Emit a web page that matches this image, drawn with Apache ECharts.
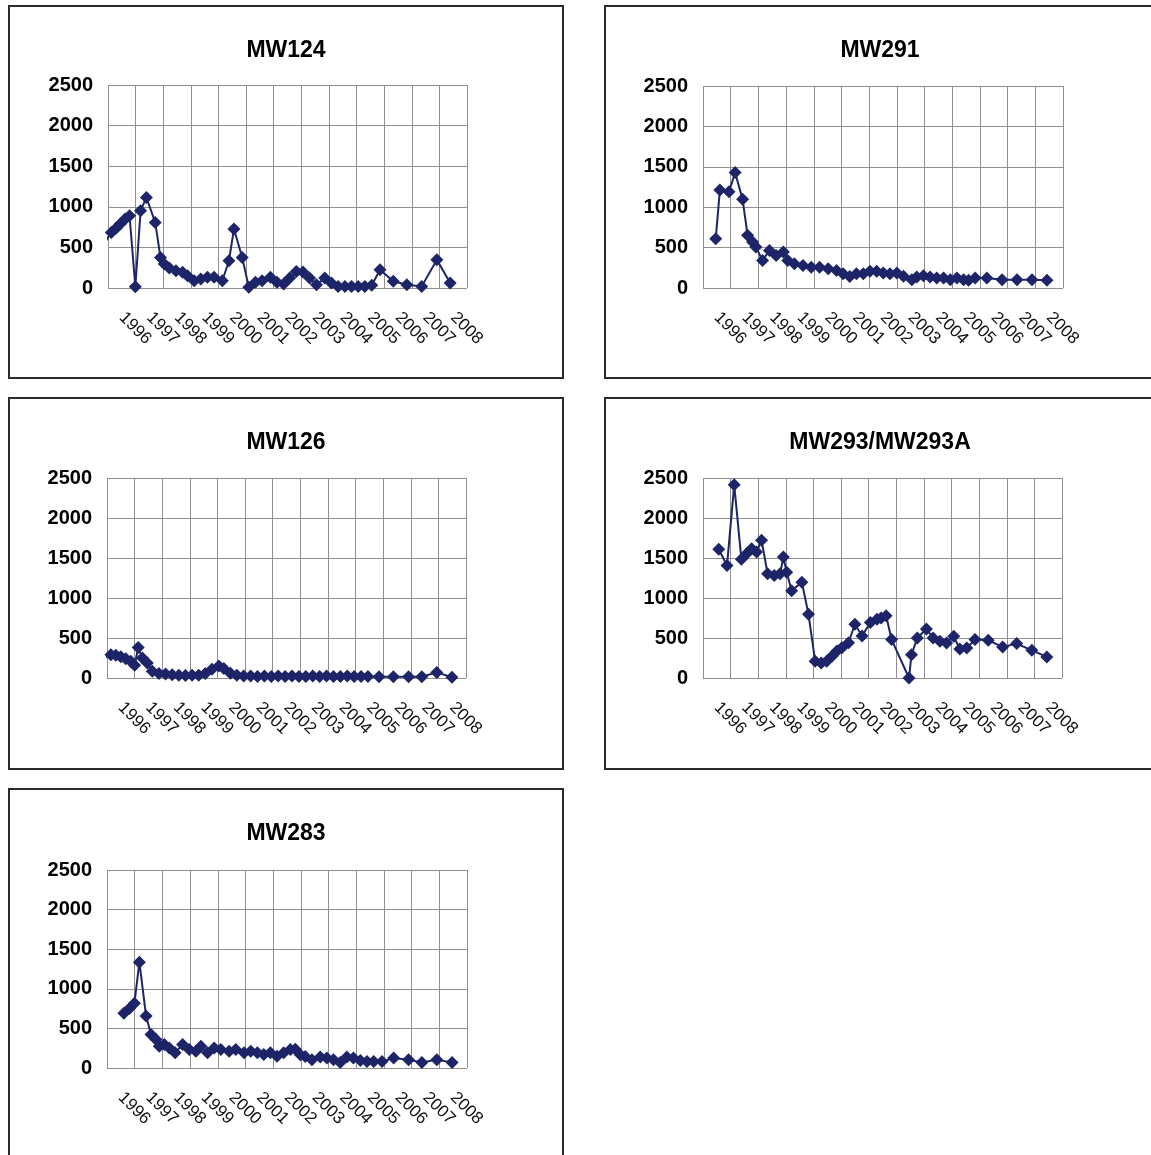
<!DOCTYPE html>
<html>
<head>
<meta charset="utf-8">
<script src="https://cdn.jsdelivr.net/npm/echarts@6/dist/echarts.min.js"></script>
<style>
  html, body { margin: 0; padding: 0; background: #fff; overflow: hidden; width: 1151px; height: 1155px; }
  .panel { position: absolute; border: 2px solid #2b2b2b; box-sizing: border-box; background: #fff; }
  .panel > div { width: 100%; height: 100%; }
</style>
</head>
<body>
<div class="panel" id="p1" style="left:8px; top:5px; width:556px; height:374px;"><div id="c1"></div></div>
<div class="panel" id="p2" style="left:604px; top:5px; width:552px; height:374px;"><div id="c2"></div></div>
<div class="panel" id="p3" style="left:8px; top:397px; width:556px; height:373px;"><div id="c3"></div></div>
<div class="panel" id="p4" style="left:604px; top:397px; width:552px; height:373px;"><div id="c4"></div></div>
<div class="panel" id="p5" style="left:8px; top:788px; width:556px; height:372px;"><div id="c5"></div></div>
<script>
// ---- Tick labels ----
const yearLabels = ['1996','1997','1998','1999','2000','2001','2002','2003','2004','2005','2006','2007','2008'];
const yTicks = [0, 500, 1000, 1500, 2000, 2500];

// ---- MW124 ----
const mw124X = [1995.74, 1996.12, 1996.3, 1996.45, 1996.62, 1996.78, 1996.99, 1997.18, 1997.39, 1997.71, 1997.9,
  1998.04, 1998.22, 1998.46, 1998.7, 1998.88, 1999.12, 1999.36, 1999.6, 1999.84, 2000.14, 2000.38, 2000.56, 2000.86,
  2001.1, 2001.34, 2001.58, 2001.88, 2002.12, 2002.36, 2002.58, 2002.82, 2003.06, 2003.3, 2003.55, 2003.85, 2004.09,
  2004.33, 2004.58, 2004.82, 2005.06, 2005.3, 2005.55, 2005.85, 2006.33, 2006.82, 2007.36, 2007.91, 2008.39];
const mw124Y = [480, 685, 740, 790, 850, 890, 16, 950, 1115, 808, 377,
  295, 246, 213, 193, 152, 90, 111, 131, 131, 90, 336, 726, 377,
  8, 70, 90, 131, 70, 49, 122, 204, 196, 122, 41, 122, 61,
  20, 20, 20, 20, 20, 33, 224, 82, 41, 20, 347, 61];

// ---- MW291 ----
const mw291X = [1996.46, 1996.61, 1996.94, 1997.16, 1997.43, 1997.61, 1997.79, 1997.91, 1998.15, 1998.4, 1998.64,
  1998.9, 1999.06, 1999.3, 1999.61, 1999.91, 2000.21, 2000.52, 2000.82, 2001.06, 2001.3, 2001.54, 2001.79, 2002.03,
  2002.27, 2002.51, 2002.75, 2003.0, 2003.24, 2003.54, 2003.72, 2003.96, 2004.2, 2004.44, 2004.69, 2004.93, 2005.17,
  2005.41, 2005.59, 2005.83, 2006.25, 2006.8, 2007.34, 2007.88, 2008.42];
const mw291Y = [611, 1213, 1192, 1429, 1097, 652, 569, 507, 341, 465, 403,
  445, 341, 299, 278, 258, 258, 237, 216, 175, 141, 175, 175, 206,
  206, 185, 177, 185, 144, 103, 136, 152, 136, 124, 124, 103, 124,
  103, 95, 124, 124, 103, 103, 103, 95];

// ---- MW126 ----
const mw126X = [1995.72, 1996.14, 1996.32, 1996.5, 1996.68, 1996.86, 1997.0, 1997.13, 1997.28, 1997.46, 1997.64,
  1997.88, 1998.12, 1998.36, 1998.6, 1998.84, 1999.08, 1999.32, 1999.56, 1999.8, 2000.05, 2000.23, 2000.47, 2000.7,
  2000.95, 2001.2, 2001.45, 2001.7, 2001.95, 2002.2, 2002.45, 2002.7, 2002.95, 2003.2, 2003.45, 2003.7, 2003.95,
  2004.2, 2004.45, 2004.7, 2004.95, 2005.2, 2005.45, 2005.85, 2006.37, 2006.92, 2007.4, 2007.94, 2008.49];
const mw126Y = [229, 290, 285, 265, 240, 210, 160, 380, 250, 188, 83,
  55, 50, 40, 35, 30, 35, 35, 55, 110, 150, 120, 60, 35,
  25, 25, 20, 25, 20, 25, 20, 25, 20, 20, 25, 20, 25,
  20, 20, 25, 20, 20, 20, 15, 15, 15, 15, 70, 10];

// ---- MW293/MW293A ----
const mw293X = [1996.57, 1996.87, 1997.13, 1997.39, 1997.58, 1997.76, 1997.94, 1998.12, 1998.34, 1998.58, 1998.79,
  1998.91, 1999.03, 1999.21, 1999.58, 1999.82, 2000.06, 2000.28, 2000.48, 2000.67, 2000.85, 2001.03, 2001.27, 2001.5,
  2001.76, 2002.06, 2002.3, 2002.45, 2002.63, 2002.83, 2003.46, 2003.55, 2003.76, 2004.09, 2004.33, 2004.58, 2004.82,
  2005.08, 2005.3, 2005.55, 2005.85, 2006.33, 2006.85, 2007.36, 2007.91, 2008.45];
const mw293Y = [1609, 1407, 2415, 1483, 1554, 1617, 1575, 1722, 1302, 1281, 1302,
  1512, 1323, 1092, 1197, 798, 210, 189, 210, 273, 336, 378, 441, 672,
  525, 693, 735, 750, 777, 480, 0, 292, 500, 613, 500, 459, 438,
  521, 363, 375, 480, 471, 388, 430, 346, 263];

// ---- MW283 ----
const mw283X = [1996.61, 1996.81, 1996.99, 1997.17, 1997.41, 1997.59, 1997.77, 1997.89, 1998.07, 1998.25, 1998.46,
  1998.73, 1998.97, 1999.21, 1999.39, 1999.63, 1999.87, 2000.11, 2000.41, 2000.65, 2000.95, 2001.19, 2001.43, 2001.66,
  2001.9, 2002.14, 2002.38, 2002.62, 2002.8, 2002.98, 2003.16, 2003.4, 2003.7, 2003.94, 2004.18, 2004.42, 2004.66,
  2004.9, 2005.15, 2005.39, 2005.63, 2005.93, 2006.35, 2006.89, 2007.37, 2007.91, 2008.46];
const mw283Y = [691, 750, 818, 1336, 657, 424, 360, 276, 297, 254, 191,
  297, 233, 212, 276, 191, 254, 233, 212, 233, 191, 212, 191, 170,
  191, 148, 191, 233, 238, 167, 146, 104, 138, 125, 104, 71, 138,
  125, 96, 83, 83, 83, 125, 104, 71, 104, 71];

const FONT = '"Liberation Sans", Arial, sans-serif';
const NAVY = '#1d2568';
const GRIDC = '#8f8f8f';

function makeChart(elId, title, xs, ys, grid) {
  const chart = echarts.init(document.getElementById(elId), null, { renderer: 'canvas' });
  chart.setOption({
    animation: false,
    backgroundColor: '#fff',
    title: {
      text: title, left: 'center', top: 27,
      textStyle: { fontFamily: FONT, fontWeight: 'bold', fontSize: 23, color: '#000' }
    },
    grid: grid,
    xAxis: [
      {
        type: 'value', min: 1996, max: 2009, interval: 1,
        axisLine: { show: false }, axisTick: { show: false }, axisLabel: { show: false },
        splitLine: { show: true, lineStyle: { color: GRIDC, width: 1 } }
      },
      {
        type: 'category', data: yearLabels, boundaryGap: true, position: 'bottom',
        axisLine: { show: false }, axisTick: { show: false }, splitLine: { show: false },
        axisLabel: { rotate: -45, margin: 27, interval: 0, fontFamily: FONT, fontSize: 17, color: '#111' }
      }
    ],
    yAxis: {
      type: 'value', min: yTicks[0], max: yTicks[yTicks.length - 1], interval: 500,
      axisLine: { show: false }, axisTick: { show: false },
      axisLabel: { margin: 15, fontFamily: FONT, fontWeight: 'bold', fontSize: 20, color: '#000',
                   formatter: v => String(v) },
      splitLine: { show: true, lineStyle: { color: GRIDC, width: 1 } }
    },
    series: [{
      type: 'line', xAxisIndex: 0, yAxisIndex: 0,
      data: xs.map((x, i) => [x, ys[i]]),
      symbol: 'diamond', symbolSize: 13, clip: true,
      itemStyle: { color: NAVY },
      lineStyle: { color: NAVY, width: 2 }
    }]
  });
}

makeChart('c1', 'MW124', mw124X, mw124Y, { left: 98, top: 78, width: 359, height: 203 });
makeChart('c2', 'MW291', mw291X, mw291Y, { left: 97, top: 79, width: 360, height: 202 });
makeChart('c3', 'MW126', mw126X, mw126Y, { left: 97, top: 79, width: 359, height: 200 });
makeChart('c4', 'MW293/MW293A', mw293X, mw293Y, { left: 97, top: 79, width: 359, height: 200 });
makeChart('c5', 'MW283', mw283X, mw283Y, { left: 97, top: 80, width: 360, height: 198 });
</script>
</body>
</html>
